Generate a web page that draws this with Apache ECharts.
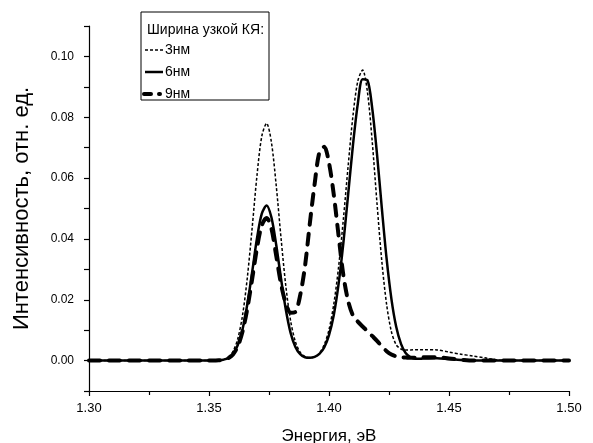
<!DOCTYPE html>
<html>
<head>
<meta charset="utf-8">
<script src="https://cdn.jsdelivr.net/npm/echarts@6/dist/echarts.min.js"></script>
<style>
  html, body { margin: 0; padding: 0; background: #fff; }
  #chart { width: 593px; height: 443px; }
</style>
</head>
<body>
<div id="chart"></div>
<script>
// Photoluminescence spectra for three widths of the narrow quantum well
const energies = [
  1.300, 1.340, 1.350,
  1.352, 1.354, 1.356, 1.358, 1.360, 1.362, 1.364, 1.366, 1.368, 1.370,
  1.372, 1.374, 1.376, 1.378, 1.380, 1.382, 1.384, 1.386, 1.388, 1.390,
  1.392, 1.394, 1.396, 1.398, 1.400, 1.402, 1.404, 1.406, 1.408, 1.410,
  1.412, 1.414, 1.416, 1.418, 1.420, 1.422, 1.424, 1.426, 1.428, 1.430,
  1.432, 1.434, 1.436, 1.438, 1.440,
  1.445, 1.450, 1.455, 1.460, 1.465, 1.470, 1.475, 1.480, 1.500
];

const well3nm = [
  0, 0, 0,
  0.0000, 0.0001, 0.0003, 0.0011, 0.0030, 0.0072, 0.0150, 0.0275, 0.0438, 0.0609,
  0.0738, 0.0780, 0.0718, 0.0576, 0.0404, 0.0246, 0.0131, 0.0062, 0.0027, 0.0013,
  0.0010, 0.0012, 0.0024, 0.0052, 0.0102, 0.0186, 0.0308, 0.0466, 0.0642, 0.0806,
  0.0919, 0.0955, 0.0884, 0.0721, 0.0517, 0.0327, 0.0185, 0.0095, 0.0052, 0.0038,
  0.0035, 0.0035, 0.0036, 0.0036, 0.0036,
  0.0035, 0.0028, 0.0021, 0.0015, 0.0009, 0.0002, 0, 0, 0
];

const well6nm = [
  0, 0, 0,
  0.0000, 0.0001, 0.0003, 0.0008, 0.0022, 0.0051, 0.0104, 0.0187, 0.0292, 0.0402,
  0.0483, 0.0510, 0.0471, 0.0381, 0.0270, 0.0168, 0.0091, 0.0045, 0.0021, 0.0011,
  0.0009, 0.0012, 0.0022, 0.0043, 0.0084, 0.0150, 0.0252, 0.0388, 0.0548, 0.0710,
  0.0844, 0.0925, 0.0922, 0.0830, 0.0679, 0.0502, 0.0335, 0.0203, 0.0111, 0.0055,
  0.0024, 0.0011, 0.0006, 0.0006, 0.0007,
  0.0008, 0.0005, 0.0002, 0, 0, 0, 0, 0, 0
];

const well9nm = [
  0, 0, 0,
  0.0000, 0.0001, 0.0003, 0.0008, 0.0020, 0.0047, 0.0096, 0.0172, 0.0269, 0.0370,
  0.0445, 0.0469, 0.0434, 0.0345, 0.0252, 0.0188, 0.0157, 0.0160, 0.0215, 0.0310,
  0.0450, 0.0580, 0.0685, 0.0703, 0.0650, 0.0545, 0.0410, 0.0280, 0.0195, 0.0148,
  0.0128, 0.0112, 0.0097, 0.0081, 0.0065, 0.0047, 0.0031, 0.0020, 0.0014, 0.0011,
  0.0010, 0.0009, 0.0009, 0.0010, 0.0011,
  0.0011, 0.0007, 0.0003, 0, 0, 0, 0, 0, 0
];

const legendTitle = 'Ширина узкой КЯ:';
const seriesNames = ['3нм', '6нм', '9нм'];
const xAxisTitle = 'Энергия, эВ';
const yAxisTitle = 'Интенсивность, отн. ед.';

const FONT = '"Liberation Sans", Arial, sans-serif';

const pairs = vals => energies.map((e, i) => [e, vals[i]]);

const styles = [
  { width: 1.5, type: [3, 2], cap: 'butt', legendDash: [3, 2], sample: [4, 22] },
  { width: 2.5, type: 'solid', cap: 'butt', legendDash: null, sample: [4, 22] },
  { width: 4, type: [11, 9], cap: 'round', legendDash: [7, 8], sample: [3, 19] }
];

const chart = echarts.init(document.getElementById('chart'), null, { renderer: 'canvas' });

const seriesData = [well3nm, well6nm, well9nm];

// Legend panel: framed box with a heading and three line samples
const lx = 141, ly = 12;
const legendChildren = [
  { type: 'rect', shape: { x: lx, y: ly, width: 128, height: 88 },
    style: { fill: '#fff', stroke: '#000', lineWidth: 1 } },
  { type: 'text', x: lx + 6, y: ly + 18,
    style: { text: legendTitle, font: '14px ' + FONT, fill: '#000', verticalAlign: 'middle' } }
];
seriesNames.forEach((name, i) => {
  const cy = ly + 38 + i * 22;
  const st = styles[i];
  legendChildren.push({
    type: 'line',
    shape: { x1: lx + st.sample[0], y1: cy, x2: lx + st.sample[1], y2: cy },
    style: { stroke: '#000', lineWidth: st.width, lineDash: st.legendDash, lineCap: st.cap }
  });
  legendChildren.push({
    type: 'text', x: lx + 24, y: cy,
    style: { text: name, font: '14px ' + FONT, fill: '#000', verticalAlign: 'middle' }
  });
});

chart.setOption({
  animation: false,
  backgroundColor: '#fff',
  grid: { left: 89, right: 24, top: 26, bottom: 52, containLabel: false, outerBoundsMode: 'none' },
  xAxis: {
    type: 'value',
    min: 1.30, max: 1.50, interval: 0.05,
    name: xAxisTitle, nameLocation: 'middle', nameGap: 37,
    nameTextStyle: { fontSize: 17, fontFamily: FONT, color: '#000' },
    axisLine: { show: true, onZero: false, lineStyle: { color: '#000', width: 1.2 } },
    axisTick: { show: true, inside: false, length: 5, lineStyle: { color: '#000', width: 1.2 } },
    minorTick: { show: true, splitNumber: 2, length: 4, lineStyle: { color: '#000', width: 1.2 } },
    axisLabel: { fontSize: 13, fontFamily: FONT, color: '#000', margin: 11,
      formatter: v => v.toFixed(2) },
    splitLine: { show: false }
  },
  yAxis: {
    type: 'value',
    min: -0.01, max: 0.11, interval: 0.01,
    name: yAxisTitle, nameLocation: 'middle', nameGap: 56,
    nameTextStyle: { fontSize: 22, fontFamily: FONT, color: '#000' },
    axisLine: { show: true, onZero: false, lineStyle: { color: '#000', width: 1.2 } },
    axisTick: { show: true, inside: false, length: 5, lineStyle: { color: '#000', width: 1.2 } },
    axisLabel: { fontSize: 12, fontFamily: FONT, color: '#000', margin: 15,
      formatter: v => {
        const k = Math.round(v * 100);
        return (k >= 0 && k <= 10 && k % 2 === 0) ? (k / 100).toFixed(2) : '';
      } },
    splitLine: { show: false }
  },
  series: seriesNames.map((name, i) => ({
    name,
    type: 'line',
    data: pairs(seriesData[i]),
    showSymbol: false,
    symbol: 'none',
    smooth: 0.3,
    clip: true,
    lineStyle: { color: '#000', width: styles[i].width, type: styles[i].type, cap: styles[i].cap, join: 'round' },
    z: 2 + i
  })),
  graphic: [{ type: 'group', z: 100, children: legendChildren }]
});
</script>
</body>
</html>
